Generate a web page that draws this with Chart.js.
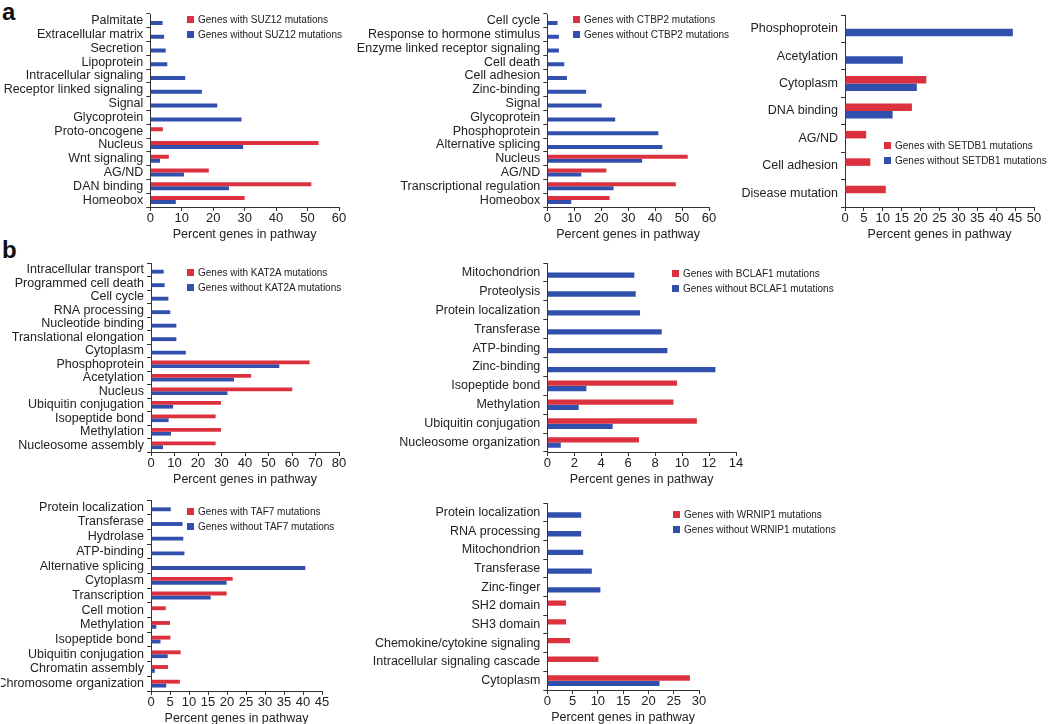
<!DOCTYPE html>
<html>
<head>
<meta charset="utf-8">
<script src="https://cdn.jsdelivr.net/npm/chart.js@4.4.0/dist/chart.umd.min.js"></script>
<style>
body { margin: 0; background: #fff; width: 1050px; height: 724px; position: relative; overflow: hidden; font-family: "Liberation Sans", Arial, sans-serif; }
canvas { position: absolute; }
.lg { position: absolute; font-size: 10px; color: #222; white-space: nowrap; line-height: 14.5px; }
.lg i { display: inline-block; width: 7px; height: 7px; margin-right: 4px; }
.tag { position: absolute; font-weight: bold; font-size: 24px; line-height: 24px; color: #111; }
</style>
</head>
<body>
<div class="tag" style="left:2px;top:0px">a</div>
<div class="tag" style="left:2px;top:238px">b</div>

<script>
const RED = '#dc323f';
const BLUE = '#3150ad';

// panel a, SUZ12
const suzCats = ['Palmitate', 'Extracellular matrix', 'Secretion', 'Lipoprotein', 'Intracellular signaling',
    'Receptor linked signaling', 'Signal', 'Glycoprotein', 'Proto-oncogene', 'Nucleus', 'Wnt signaling',
    'AG/ND', 'DAN binding', 'Homeobox'];
const suzWith = [null, null, null, null, null, null, null, null, 4, 53.5, 5.9, 18.6, 51.2, 30];
const suzWithout = [3.9, 4.4, 4.9, 5.4, 11.1, 16.4, 21.3, 29, null, 29.5, 3.1, 10.7, 25, 8.1];

// panel a, CTBP2
const ctbCats = ['Cell cycle', 'Response to hormone stimulus', 'Enzyme linked receptor signaling', 'Cell death',
    'Cell adhesion', 'Zinc-binding', 'Signal', 'Glycoprotein', 'Phosphoprotein', 'Alternative splicing',
    'Nucleus', 'AG/ND', 'Transcriptional regulation', 'Homeobox'];
const ctbWith = [null, null, null, null, null, null, null, null, null, null, 52.1, 21.9, 47.7, 23.1];
const ctbWithout = [3.8, 4.3, 4.3, 6.3, 7.3, 14.4, 20.2, 25.2, 41.2, 42.7, 35.2, 12.6, 24.6, 8.9];

// panel a, SETDB1
const setCats = ['Phosphoprotein', 'Acetylation', 'Cytoplasm', 'DNA binding', 'AG/ND', 'Cell adhesion', 'Disease mutation'];
const setWith = [null, null, 21.5, 17.7, 5.6, 6.7, 10.8];
const setWithout = [44.4, 15.3, 19, 12.6, null, null, null];

// panel b, KAT2A
const katCats = ['Intracellular transport', 'Programmed cell death', 'Cell cycle', 'RNA processing',
    'Nucleotide binding', 'Translational elongation', 'Cytoplasm', 'Phosphoprotein', 'Acetylation', 'Nucleus',
    'Ubiquitin conjugation', 'Isopeptide bond', 'Methylation', 'Nucleosome assembly'];
const katWith = [null, null, null, null, null, null, null, 67.5, 42.6, 60.1, 29.8, 27.5, 29.8, 27.5];
const katWithout = [5.4, 5.8, 7.4, 8.2, 10.8, 10.8, 14.8, 54.6, 35.3, 32.5, 9.4, 7.5, 8.5, 5.1];

// panel b, BCLAF1
const bclCats = ['Mitochondrion', 'Proteolysis', 'Protein localization', 'Transferase', 'ATP-binding',
    'Zinc-binding', 'Isopeptide bond', 'Methylation', 'Ubiquitin conjugation', 'Nucleosome organization'];
const bclWith = [null, null, null, null, null, null, 9.63, 9.36, 11.1, 6.8];
const bclWithout = [6.46, 6.56, 6.88, 8.49, 8.91, 12.47, 2.9, 2.33, 4.85, 1.0];

// panel b, TAF7
const tafCats = ['Protein localization', 'Transferase', 'Hydrolase', 'ATP-binding', 'Alternative splicing',
    'Cytoplasm', 'Transcription', 'Cell motion', 'Methylation', 'Isopeptide bond', 'Ubiquitin conjugation',
    'Chromatin assembly', 'Chromosome organization'];
const tafWith = [null, null, null, null, null, 21.5, 19.9, 3.9, 5.0, 5.1, 7.8, 4.5, 7.6];
const tafWithout = [5.2, 8.3, 8.5, 8.8, 40.6, 19.9, 15.7, null, 1.4, 2.5, 4.4, 1.0, 4.0];

// panel b, WRNIP1
const wrnCats = ['Protein localization', 'RNA processing', 'Mitochondrion', 'Transferase', 'Zinc-finger',
    'SH2 domain', 'SH3 domain', 'Chemokine/cytokine signaling', 'Intracellular signaling cascade', 'Cytoplasm'];
const wrnWith = [null, null, null, null, null, 3.7, 3.7, 4.5, 10.1, 28.2];
const wrnWithout = [6.7, 6.7, 7.1, 8.8, 10.5, null, null, null, null, 22.2];

const PAD_TOP = 14, PAD_RIGHT = 14, X_AXIS_H = 35;

function addLegend(gene, left, top) {
    const d = document.createElement('div');
    d.className = 'lg';
    d.style.left = left + 'px';
    d.style.top = top + 'px';
    d.innerHTML = `<div><i style="background:${RED}"></i>Genes with ${gene} mutations</div>` +
        `<div><i style="background:${BLUE}"></i>Genes without ${gene} mutations</div>`;
    document.body.appendChild(d);
}

function addPanel(cats, withVals, withoutVals, o) {
    const left = Math.round(o.axisX - o.yw);
    const top = Math.round(o.top - PAD_TOP);
    const yWidth = o.axisX - left;
    const canvas = document.createElement('canvas');
    canvas.width = Math.round(o.xEnd - left + PAD_RIGHT);
    canvas.height = Math.round(o.bottom - top + X_AXIS_H);
    canvas.style.left = left + 'px';
    canvas.style.top = top + 'px';
    document.body.appendChild(canvas);

    new Chart(canvas.getContext('2d'), {
        type: 'bar',
        data: {
            labels: cats,
            datasets: [
                { label: 'with', data: withVals, backgroundColor: RED },
                { label: 'without', data: withoutVals, backgroundColor: BLUE }
            ]
        },
        options: {
            indexAxis: 'y',
            responsive: false,
            animation: false,
            layout: { padding: { top: PAD_TOP, right: PAD_RIGHT, left: 0, bottom: 0 } },
            datasets: { bar: { categoryPercentage: o.catPct, barPercentage: 1.0 } },
            plugins: { legend: { display: false }, tooltip: { enabled: false } },
            scales: {
                y: {
                    afterFit: s => { s.width = yWidth; },
                    grid: { offset: true, drawOnChartArea: false, drawTicks: true, tickLength: 4, color: '#333' },
                    border: { color: '#333' },
                    ticks: { autoSkip: false, padding: 3, color: '#222', font: { family: 'Liberation Sans', size: 12.5 } }
                },
                x: {
                    min: 0,
                    max: o.max,
                    afterFit: s => { s.height = X_AXIS_H; },
                    grid: { drawOnChartArea: false, drawTicks: true, tickLength: 4, color: '#333' },
                    border: { color: '#333' },
                    ticks: { stepSize: o.step, autoSkip: false, maxRotation: 0, padding: 0, color: '#222',
                        font: { family: 'Liberation Sans', size: 13 } },
                    title: { display: true, text: 'Percent genes in pathway', color: '#222', padding: 0,
                        font: { family: 'Liberation Sans', size: 12.5 } }
                }
            }
        }
    });
}

addPanel(suzCats, suzWith, suzWithout, { axisX: 150.3, xEnd: 339.3, top: 14, bottom: 207, max: 60, step: 10, yw: 150, catPct: 0.58 });
addPanel(ctbCats, ctbWith, ctbWithout, { axisX: 547.3, xEnd: 709.3, top: 14, bottom: 207, max: 60, step: 10, yw: 197, catPct: 0.58 });
addPanel(setCats, setWith, setWithout, { axisX: 845, xEnd: 1034, top: 15, bottom: 207, max: 50, step: 5, yw: 120, catPct: 0.55 });
addPanel(katCats, katWith, katWithout, { axisX: 151, xEnd: 339, top: 263, bottom: 452, max: 80, step: 10, yw: 150, catPct: 0.57 });
addPanel(bclCats, bclWith, bclWithout, { axisX: 547.3, xEnd: 736, top: 263, bottom: 452, max: 14, step: 2, yw: 197, catPct: 0.56 });
addPanel(tafCats, tafWith, tafWithout, { axisX: 151, xEnd: 321.7, top: 500, bottom: 690.5, max: 45, step: 5, yw: 150, catPct: 0.53 });
addPanel(wrnCats, wrnWith, wrnWithout, { axisX: 547.3, xEnd: 699.3, top: 503, bottom: 690, max: 30, step: 5, yw: 197, catPct: 0.57 });

addLegend('SUZ12', 187, 13);
addLegend('CTBP2', 573, 13);
addLegend('SETDB1', 884, 139);
addLegend('KAT2A', 187, 266);
addLegend('BCLAF1', 672, 267);
addLegend('TAF7', 187, 505);
addLegend('WRNIP1', 673, 508);
</script>
</body>
</html>
